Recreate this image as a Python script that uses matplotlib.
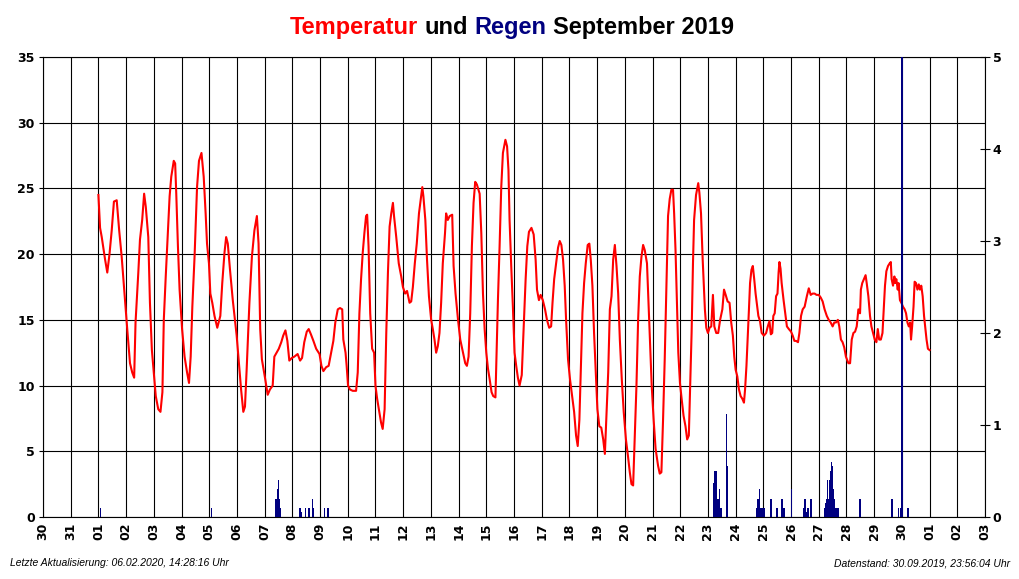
import matplotlib
matplotlib.use("Agg")
import matplotlib.pyplot as plt
import numpy as np

plt.rcParams["font.family"] = ["Liberation Sans", "DejaVu Sans"]

# Zeit in Tagen ab 01.09.2019 00:00, Temperatur in °C
temp_tag = [
    0.00, 0.06, 0.12, 0.24, 0.32, 0.40, 0.48, 0.56, 0.66, 0.75, 0.84, 0.93,
    1.01, 1.04, 1.14, 1.22, 1.29, 1.34, 1.44, 1.50, 1.58, 1.65, 1.71, 1.80, 1.86, 1.93,
    2.01, 2.07, 2.16, 2.24, 2.31, 2.36, 2.43, 2.51, 2.57, 2.63, 2.72, 2.77, 2.81, 2.87, 2.93,
    3.02, 3.11, 3.20, 3.27, 3.33, 3.39, 3.47, 3.56, 3.63, 3.72, 3.80, 3.87, 3.92, 3.99,
    4.04, 4.11, 4.19, 4.29, 4.40, 4.47, 4.55, 4.61, 4.67, 4.75, 4.85, 4.93, 4.99,
    5.07, 5.15, 5.23, 5.29, 5.35, 5.45, 5.54, 5.63, 5.72, 5.78, 5.84, 5.90,
    6.02, 6.11, 6.19, 6.29, 6.35, 6.43, 6.51, 6.60, 6.67, 6.75, 6.82, 6.89, 6.98,
    7.07, 7.19, 7.28, 7.35, 7.43, 7.52, 7.59, 7.67, 7.76, 7.86, 7.98,
    8.05, 8.12, 8.22, 8.31, 8.40, 8.48, 8.55, 8.64, 8.72, 8.80, 8.84, 8.92, 8.96,
    9.01, 9.08, 9.18, 9.30, 9.36, 9.42, 9.48, 9.54, 9.60, 9.66, 9.70, 9.75, 9.81, 9.88, 9.95,
    10.00, 10.06, 10.14, 10.20, 10.26, 10.33, 10.39, 10.45, 10.51, 10.57, 10.63, 10.67,
    10.75, 10.84, 10.93, 10.99,
    11.07, 11.14, 11.23, 11.29, 11.35, 11.42, 11.49, 11.57, 11.63, 11.69, 11.73, 11.80,
    11.86, 11.93,
    12.01, 12.07, 12.13, 12.19, 12.25, 12.31, 12.37, 12.43, 12.51, 12.55, 12.61, 12.68,
    12.77, 12.82, 12.89, 12.98,
    13.06, 13.16, 13.24, 13.30, 13.36, 13.42, 13.48, 13.54, 13.60, 13.66, 13.76, 13.82,
    13.88, 13.94,
    14.00, 14.06, 14.12, 14.19, 14.25, 14.33, 14.36, 14.42, 14.48, 14.54, 14.60, 14.69,
    14.75, 14.80, 14.84, 14.90, 14.96,
    15.02, 15.08, 15.14, 15.20, 15.28, 15.35, 15.42, 15.48, 15.54, 15.63, 15.71, 15.78,
    15.83, 15.90, 15.96,
    16.04, 16.12, 16.19, 16.27, 16.34, 16.39, 16.45, 16.51, 16.59, 16.65, 16.71, 16.77,
    16.83, 16.88, 16.95,
    17.02, 17.10, 17.17, 17.24, 17.30, 17.36, 17.41, 17.47, 17.53, 17.59, 17.66, 17.72,
    17.77, 17.83, 17.89, 17.95,
    18.01, 18.08, 18.15, 18.22, 18.28, 18.34, 18.40, 18.46, 18.52, 18.58, 18.64, 18.70,
    18.76, 18.82, 18.89, 18.96,
    19.04, 19.11, 19.18, 19.24, 19.30, 19.36, 19.42, 19.48, 19.54, 19.60, 19.66, 19.72,
    19.80, 19.85, 19.90, 19.97,
    20.04, 20.11, 20.20, 20.26, 20.32, 20.38, 20.44, 20.50, 20.56, 20.62, 20.68, 20.74,
    20.78, 20.83, 20.88, 20.93, 20.99,
    21.05, 21.12, 21.19, 21.25, 21.31, 21.36, 21.41, 21.46, 21.50, 21.57, 21.65, 21.69,
    21.75, 21.81, 21.87, 21.89, 21.94,
    22.00, 22.06, 22.12, 22.18, 22.23, 22.30, 22.37, 22.44, 22.52, 22.58, 22.64, 22.71,
    22.78, 22.84, 22.90, 22.95,
    23.00, 23.06, 23.12, 23.18, 23.24, 23.30, 23.34, 23.39, 23.44, 23.48, 23.52, 23.57,
    23.62, 23.67, 23.72, 23.76, 23.82, 23.88, 23.94,
    24.02, 24.10, 24.16, 24.22, 24.27, 24.32, 24.36, 24.41, 24.46, 24.51, 24.55, 24.58,
    24.62, 24.66, 24.73, 24.79, 24.85, 24.92,
    25.00, 25.06, 25.12, 25.18, 25.25, 25.30, 25.36, 25.42, 25.49, 25.57, 25.64, 25.71,
    25.78, 25.85, 25.92,
    26.00, 26.07, 26.14, 26.21, 26.29, 26.36, 26.43, 26.50, 26.56, 26.62, 26.69, 26.74,
    26.80, 26.86, 26.92, 26.98,
    27.07, 27.13, 27.19, 27.25, 27.31, 27.37, 27.43, 27.49, 27.52, 27.57, 27.63, 27.69,
    27.73, 27.79, 27.85, 27.90, 27.96,
    28.02, 28.08, 28.13, 28.18, 28.24, 28.30, 28.35, 28.39, 28.44, 28.50, 28.56, 28.60,
    28.63, 28.68, 28.73, 28.76, 28.80, 28.85, 28.88, 28.93, 28.98,
    29.04, 29.10, 29.15, 29.20, 29.25, 29.30, 29.33, 29.37, 29.42, 29.46, 29.51, 29.56,
    29.61, 29.65, 29.70, 29.75, 29.80, 29.85, 29.89, 29.94, 30.00,
]
temp_wert = [
    24.5, 22.0, 21.3, 19.6, 18.6, 20.0, 21.8, 24.0, 24.1, 21.8, 19.8, 17.3,
    15.0, 14.3, 11.7, 11.0, 10.6, 14.8, 18.6, 21.1, 22.6, 24.6, 23.6, 21.3, 16.3, 12.7,
    10.7, 9.2, 8.2, 8.0, 9.5, 15.0, 18.3, 21.8, 24.4, 25.9, 27.1, 26.9, 24.6, 20.6, 17.3,
    14.3, 12.2, 11.0, 10.2, 12.2, 16.0, 19.8, 25.1, 27.1, 27.7, 25.9, 23.1, 20.8, 19.3,
    17.0, 16.3, 15.3, 14.4, 15.3, 17.8, 20.1, 21.3, 20.8, 18.8, 16.5, 15.0, 13.8,
    11.7, 9.7, 8.0, 8.4, 11.2, 16.3, 19.8, 21.8, 22.9, 20.8, 14.3, 12.0,
    10.5, 9.3, 9.7, 10.0, 12.2, 12.5, 12.8, 13.3, 13.8, 14.2, 13.4, 11.9, 12.1,
    12.2, 12.4, 11.9, 12.1, 13.3, 14.1, 14.3, 13.9, 13.4, 12.8, 12.4,
    11.5, 11.1, 11.4, 11.5, 12.5, 13.4, 14.8, 15.8, 15.9, 15.8, 13.5, 12.5, 11.5,
    10.0, 9.7, 9.6, 9.6, 11.0, 15.5, 18.1, 20.1, 21.6, 22.9, 23.0, 20.6, 15.5, 12.8, 12.5,
    10.0, 9.0, 8.0, 7.2, 6.7, 8.2, 14.0, 18.6, 22.1, 23.1, 23.9, 22.9,
    21.3, 19.3, 18.3, 17.5,
    17.0, 17.2, 16.3, 16.4, 17.5, 19.3, 20.8, 23.1, 24.1, 25.1, 24.4, 22.6,
    19.6, 16.8,
    15.0, 14.3, 13.5, 12.5, 13.0, 14.0, 16.3, 19.3, 21.6, 23.1, 22.6, 22.9,
    23.0, 19.1, 17.0, 15.0,
    13.5, 12.5, 11.7, 11.5, 12.2, 15.5, 20.6, 23.9, 25.5, 25.3, 24.6, 21.6,
    17.0, 14.3,
    12.5, 11.3, 10.5, 9.5, 9.2, 9.1, 11.5, 16.5, 20.6, 25.1, 27.7, 28.7,
    28.2, 26.4, 22.6, 19.1, 16.0,
    12.5, 11.5, 10.6, 10.0, 10.8, 14.5, 18.1, 20.6, 21.7, 22.0, 21.5, 19.6,
    17.3, 16.5, 16.9,
    16.5, 15.8, 15.0, 14.4, 14.5, 16.3, 18.1, 19.1, 20.5, 21.0, 20.7, 19.6,
    17.6, 15.0, 12.0,
    10.5, 9.2, 8.0, 6.2, 5.4, 7.4, 11.0, 15.5, 17.8, 19.3, 20.7, 20.8,
    19.6, 17.6, 14.0, 11.0,
    8.2, 6.9, 6.8, 5.9, 4.8, 8.0, 11.0, 15.8, 16.8, 19.6, 20.7, 19.1,
    17.0, 13.5, 10.5, 8.0,
    5.9, 4.7, 3.4, 2.5, 2.4, 6.2, 10.0, 15.0, 18.3, 19.8, 20.7, 20.3,
    19.3, 16.5, 13.5, 10.0,
    7.4, 5.2, 3.9, 3.3, 3.4, 7.4, 12.0, 17.6, 22.9, 24.2, 24.9, 24.9,
    23.1, 20.3, 16.3, 12.5, 10.2,
    9.0, 7.7, 6.9, 5.9, 6.2, 10.0, 14.0, 19.3, 22.6, 24.5, 25.4, 24.7,
    23.1, 19.6, 16.8, 15.8, 14.4,
    14.0, 14.4, 14.5, 16.9, 14.5, 14.0, 14.0, 15.0, 15.8, 17.3, 16.9, 16.4,
    16.3, 14.8, 13.8, 12.2,
    11.2, 10.7, 9.7, 9.2, 9.0, 8.7, 9.7, 11.5, 13.8, 15.8, 17.8, 18.8,
    19.1, 18.1, 17.0, 16.3, 15.3, 14.9, 14.0,
    13.8, 14.0, 14.5, 14.9, 13.9, 14.0, 15.3, 15.5, 16.8, 17.0, 18.6, 19.4,
    18.9, 17.8, 16.5, 15.5, 14.5, 14.3,
    14.1, 13.8, 13.4, 13.4, 13.3, 14.0, 15.3, 15.8, 16.0, 16.8, 17.4, 16.9,
    17.0, 17.0, 16.9,
    16.9, 16.7, 16.4, 15.8, 15.3, 15.0, 14.8, 14.5, 14.8, 14.8, 15.0, 14.5,
    13.5, 13.3, 12.9, 12.2,
    11.7, 11.7, 13.5, 14.0, 14.1, 14.5, 15.8, 15.5, 17.3, 17.8, 18.1, 18.4,
    17.8, 16.8, 15.3, 14.5, 14.0,
    13.5, 13.3, 14.3, 13.5, 13.5, 14.0, 16.0, 17.6, 18.7, 19.1, 19.3, 19.4,
    18.1, 17.6, 18.3, 17.8, 18.1, 17.3, 17.8, 16.5, 16.3,
    16.0, 15.8, 15.5, 14.8, 14.5, 14.8, 13.5, 14.5, 16.0, 17.9, 17.8, 17.3,
    17.7, 17.3, 17.6, 16.8, 15.3, 14.3, 13.5, 12.8, 12.7,
]

# Regen in mm
regen_tag = [
    0.08, 4.09,
    6.41, 6.44, 6.47, 6.51, 6.54, 6.58,
    7.25, 7.29, 7.31, 7.47, 7.58, 7.62, 7.72, 7.75, 8.16, 8.29,
    22.22, 22.25, 22.29, 22.33, 22.37, 22.42, 22.47, 22.68, 22.71,
    23.77, 23.81, 23.85, 23.89, 23.95, 23.99, 24.03,
    24.27, 24.49, 24.67, 24.74, 25.02,
    25.47, 25.50, 25.54, 25.61, 25.72,
    26.21, 26.24, 26.28, 26.31, 26.35, 26.38, 26.42, 26.46, 26.49, 26.53,
    26.56, 26.60, 26.64, 26.69,
    27.49, 28.62, 28.66, 28.87, 28.97, 29.00, 29.03, 29.22,
]
regen_mm = [
    0.1, 0.1,
    0.2, 0.2, 0.3, 0.4, 0.2, 0.1,
    0.1, 0.1, 0.05, 0.1, 0.1, 0.1, 0.2, 0.1, 0.1, 0.1,
    0.37, 0.5, 0.5, 0.2, 0.2, 0.3, 0.1, 1.12, 0.55,
    0.1, 0.2, 0.3, 0.1, 0.1, 0.1, 0.1,
    0.2, 0.1, 0.2, 0.1, 0.3,
    0.1, 0.2, 0.05, 0.1, 0.2,
    0.1, 0.15, 0.2, 0.4, 0.2, 0.4, 0.5, 0.6, 0.55, 0.3,
    0.2, 0.1, 0.1, 0.1,
    0.2, 0.2, 0.2, 0.1, 0.1, 6.0, 0.1, 0.1,
]

tage_pos = list(range(-2, 33))
tage_labels = ["30", "31"] + ["%02d" % d for d in range(1, 31)] + ["01", "02", "03"]

W, H = 1020, 579
fig = plt.figure(figsize=(W / 100, H / 100), dpi=100)
ax = fig.add_axes([43 / W, 1 - 517 / H, 942 / W, 460 / H])
ax.set_xlim(-2, 32)
ax.set_ylim(0, 35)
ax.set_xticks(tage_pos)
ax.set_xticklabels(tage_labels, rotation=90, fontweight="bold", fontsize=9,
                   family="DejaVu Sans")
ax.set_yticks(range(0, 36, 5))
ax.set_yticklabels([str(v) for v in range(0, 36, 5)], fontweight="bold", fontsize=9,
                   family="DejaVu Sans")
ax.grid(True, color="black", linewidth=0.8)
ax.tick_params(axis="x", length=0, pad=4)
ax.tick_params(axis="y", length=3, direction="out", pad=3, width=0.8)
for s in ax.spines.values():
    s.set_color("black")
    s.set_linewidth(0.8)

ax.plot(temp_tag, temp_wert, color="#ff0000", linewidth=1.5)

ax2 = ax.twinx()
ax2.set_ylim(0, 5)
ax2.bar(regen_tag, regen_mm, width=0.05, color="#000080", linewidth=0)
ax2.set_yticks(range(0, 6))
ax2.set_yticklabels([str(v) for v in range(0, 6)], fontweight="bold", fontsize=9,
                    family="DejaVu Sans")
ax2.tick_params(axis="y", direction="inout", length=7, width=0.8, pad=2)
for s in ax2.spines.values():
    s.set_visible(False)

# Titel in mehreren Farben
teile = [("Temperatur", "#ff0000"), ("und", "black"), ("Regen", "#000080"),
         ("September 2019", "black")]
titel_kw = dict(fontsize=17, fontweight="bold")
fig.canvas.draw()
r = fig.canvas.get_renderer()


def breite(s):
    t = fig.text(0, 0, s, **titel_kw)
    w = t.get_window_extent(r).width
    t.remove()
    return w


voll = " ".join(p[0] for p in teile)
start = 512 - breite(voll) / 2
for i, (wort, farbe) in enumerate(teile):
    bis = " ".join(p[0] for p in teile[:i + 1])
    x = start + breite(bis) - breite(wort)
    fig.text(x / W, 1 - 34 / H, wort, color=farbe, va="baseline", **titel_kw)

fig.text(10 / W, 1 - 563 / H, "Letzte Aktualisierung: 06.02.2020, 14:28:16 Uhr",
         style="italic", fontsize=7.5, va="center")
fig.text(1010 / W, 1 - 563 / H, "Datenstand: 30.09.2019, 23:56:04 Uhr",
         style="italic", fontsize=7.5, va="center", ha="right")

fig.savefig("out.png", dpi=100)
